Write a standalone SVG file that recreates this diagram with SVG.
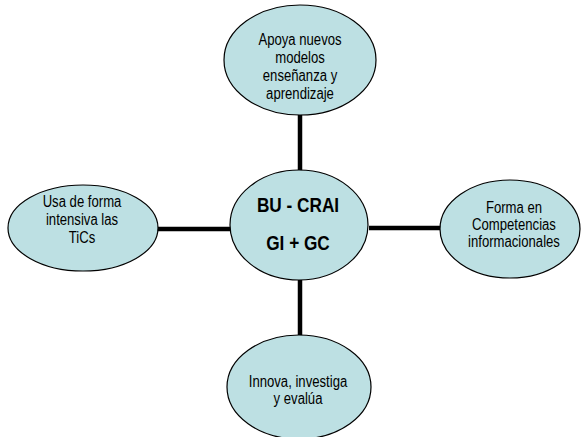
<svg xmlns="http://www.w3.org/2000/svg" width="583" height="437" viewBox="0 0 583 437">
<style>
.n{fill:#bde0e3;stroke:#000;stroke-width:1.2}
.t{font-family:"Liberation Sans",Arial,sans-serif;font-size:16px;fill:#000;text-anchor:middle}
.b{font-family:"Liberation Sans",Arial,sans-serif;font-size:21px;font-weight:bold;fill:#000;text-anchor:middle}
.c{stroke:#000;stroke-width:4.5;fill:none}
</style>
<rect width="583" height="437" fill="#fff"/>
<g id="connectors">
<line class="c" x1="300" y1="114" x2="300" y2="172"/>
<line class="c" x1="300" y1="280" x2="300" y2="336"/>
<line class="c" x1="157" y1="229" x2="231" y2="229"/>
<line class="c" x1="369" y1="228" x2="441" y2="228"/>
</g>
<g id="top">
<ellipse class="n" cx="300" cy="60" rx="76" ry="55"/>
<g transform="translate(300 0) scale(0.82 1)">
<text class="t" x="0" y="45">Apoya nuevos</text>
<text class="t" x="0" y="63">modelos</text>
<text class="t" x="0" y="81">enseñanza y</text>
<text class="t" x="0" y="99">aprendizaje</text>
</g>
</g>
<g id="center">
<ellipse class="n" cx="299" cy="225" rx="69" ry="55"/>
<g transform="translate(298 0) scale(0.82 1)">
<text class="b" x="0" y="212">BU - CRAI</text>
<text class="b" x="0" y="250">GI + GC</text>
</g>
</g>
<g id="left">
<ellipse class="n" cx="83" cy="228" rx="75" ry="43"/>
<g transform="translate(82 0) scale(0.82 1)">
<text class="t" x="0" y="207">Usa de forma</text>
<text class="t" x="0" y="225">intensiva las</text>
<text class="t" x="0" y="243">TiCs</text>
</g>
</g>
<g id="right">
<ellipse class="n" cx="510" cy="229" rx="70" ry="49"/>
<g transform="translate(514 0) scale(0.82 1)">
<text class="t" x="0" y="213">Forma en</text>
<text class="t" x="0" y="230">Competencias</text>
<text class="t" x="0" y="247">informacionales</text>
</g>
</g>
<g id="bottom">
<ellipse class="n" cx="299" cy="387" rx="72" ry="52"/>
<g transform="translate(298 0) scale(0.82 1)">
<text class="t" x="0" y="387">Innova, investiga</text>
<text class="t" x="0" y="404">y evalúa</text>
</g>
</g>
</svg>
